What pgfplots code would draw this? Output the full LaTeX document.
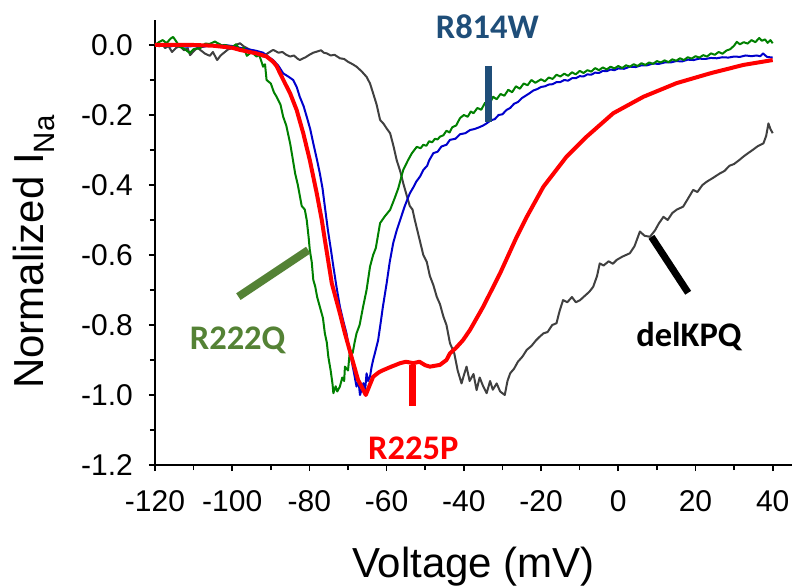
\documentclass[border=0pt]{standalone}
\usepackage{fontspec}
\setmainfont{Liberation Sans}
\newfontfamily\labfont{Carlito}
\usepackage{pgfplots}
\pgfplotsset{compat=1.18}
\definecolor{cgreen}{RGB}{0,128,0}
\definecolor{cblue}{RGB}{0,0,204}
\definecolor{cred}{RGB}{255,0,0}
\definecolor{cgray}{RGB}{64,64,64}
\definecolor{mblue}{RGB}{31,78,121}
\definecolor{mgreen}{RGB}{84,130,53}
\begin{document}
\begin{tikzpicture}
\begin{axis}[
  name=ax, scale only axis, width=637pt, height=445pt,
  xmin=-120, xmax=45, ymin=-1.2, ymax=0.0714,
  axis x line=bottom, axis y line=left,
  axis line style={-, line width=2pt},
  tick align=outside, major tick length=6pt, minor tick length=5pt,
  tick style={black, line width=1.6pt},
  xtick={-120,-100,-80,-60,-40,-20,0,20,40},
  ytick={-1.2,-1.0,-0.8,-0.6,-0.4,-0.2,0},
  minor x tick num=1, minor y tick num=1,
  /pgf/number format/assume math mode=true,
  tick label style={font=\fontsize{30}{36}\selectfont},
  xticklabel style={anchor=base, inner sep=0pt, yshift=-40pt},
  yticklabel style={anchor=east, inner sep=0pt, xshift=-16pt,
    /pgf/number format/fixed, /pgf/number format/fixed zerofill, /pgf/number format/precision=1},
  xlabel={Voltage (mV)},
  ylabel={Normalized I\textsubscript{Na}},
  label style={font=\fontsize{42}{50}\selectfont},
  xlabel style={at={(axis description cs:0.5,-0.2517)}, anchor=base},
  ylabel style={at={(axis description cs:-0.1758,0.4787)}, anchor=base},
  clip=false,
]
% delKPQ (gray)
\addplot[cgray, line width=2pt, line join=round] coordinates {
(-120,0.005) (-119,-0.004) (-118,0.002) (-117.4,-0.009) (-116.5,-0.003) (-115.6,-0.02) (-114.5,-0.008) (-113.5,-0.003) (-112.5,-0.015) (-111.5,-0.01) (-110.9,-0.029) (-110,-0.018) (-109,-0.008) (-108.3,-0.014) (-107,-0.025) (-105.8,-0.031) (-105,-0.02) (-103.9,-0.043) (-103,-0.03) (-101.9,-0.02) (-101,-0.012) (-99.8,-0.009) (-99,0.0) (-98,0.005) (-97,-0.004) (-96,-0.01) (-95.4,-0.014) (-94,-0.02) (-93,-0.025) (-92,-0.033) (-91,-0.025) (-90,-0.018) (-89.4,-0.014) (-88,-0.022) (-87,-0.02) (-86,-0.028) (-85,-0.033) (-84,-0.03) (-83.2,-0.038) (-82.5,-0.043) (-81,-0.035) (-80,-0.028) (-79,-0.022) (-78.1,-0.019) (-77,-0.015) (-76.3,-0.022) (-75.5,-0.024) (-74.5,-0.03) (-73.5,-0.028) (-72.1,-0.038) (-71,-0.04) (-70,-0.048) (-68.8,-0.055) (-67.8,-0.062) (-66.5,-0.075) (-65.2,-0.091) (-64.3,-0.11) (-63.5,-0.138) (-62.6,-0.17) (-61.7,-0.214) (-60.8,-0.225) (-59.9,-0.24) (-59.1,-0.252) (-58.2,-0.29) (-57.4,-0.329) (-56.5,-0.36) (-55.7,-0.395) (-54.8,-0.43) (-54,-0.46) (-53.3,-0.47) (-52.7,-0.5) (-51.6,-0.55) (-50.5,-0.6) (-49.6,-0.62) (-48.8,-0.66) (-47.9,-0.686) (-47,-0.72) (-46.2,-0.74) (-45.3,-0.776) (-44.5,-0.8) (-43.6,-0.852) (-42.5,-0.88) (-41.6,-0.93) (-40.6,-0.967) (-39.9,-0.94) (-39.3,-0.919) (-38.5,-0.96) (-37.5,-0.94) (-36.7,-0.986) (-35.9,-0.95) (-35,-0.975) (-34.1,-0.995) (-33.2,-0.96) (-32.5,-0.985) (-31.5,-0.967) (-30.6,-0.99) (-29.4,-1.0) (-28.7,-0.96) (-28,-0.938) (-27,-0.925) (-26,-0.905) (-24.8,-0.89) (-23.7,-0.871) (-22.5,-0.86) (-21.4,-0.845) (-20.5,-0.835) (-19.4,-0.824) (-18.3,-0.82) (-17.1,-0.8) (-16,-0.795) (-15.2,-0.76) (-14.3,-0.729) (-13.2,-0.735) (-12,-0.72) (-11,-0.735) (-9.9,-0.729) (-8.5,-0.715) (-7.5,-0.705) (-6.5,-0.691) (-5.5,-0.66) (-4.8,-0.624) (-3.8,-0.63) (-2.5,-0.618) (-1.4,-0.625) (-0.4,-0.614) (1,-0.605) (2,-0.6) (3,-0.595) (4.2,-0.575) (5.6,-0.533) (6.8,-0.545) (8.2,-0.548) (9.5,-0.53) (10.5,-0.51) (11.7,-0.491) (12.8,-0.5) (14,-0.48) (15.2,-0.47) (16.8,-0.462) (18,-0.44) (19.4,-0.414) (20.5,-0.42) (21.8,-0.4) (23,-0.39) (24.5,-0.38) (26.3,-0.367) (27.5,-0.36) (28.8,-0.345) (30,-0.34) (31.2,-0.33) (32.4,-0.319) (33.5,-0.31) (34.8,-0.3) (36,-0.29) (37.6,-0.281) (38.3,-0.26) (38.9,-0.224) (39.4,-0.24) (40,-0.252)
};
% blue
\addplot[cblue, line width=2pt, line join=round] coordinates {
(-120,0.0) (-118,0.002) (-116,-0.004) (-114,0.0) (-112,-0.005) (-110,-0.003) (-108,-0.006) (-106,-0.002) (-104,-0.004) (-102,0.0) (-100,-0.003) (-98,-0.008) (-96,-0.012) (-94,-0.016) (-92,-0.022) (-90.5,-0.035) (-89.4,-0.043) (-88,-0.06) (-86.8,-0.081) (-85.5,-0.09) (-84.2,-0.1) (-83.3,-0.12) (-82.5,-0.148) (-81.5,-0.175) (-80.7,-0.205) (-79.8,-0.24) (-79,-0.281) (-78,-0.33) (-77.3,-0.367) (-76.6,-0.41) (-76,-0.462) (-75.2,-0.53) (-74.5,-0.58) (-73.8,-0.633) (-73,-0.69) (-72.1,-0.748) (-71.2,-0.79) (-70.4,-0.824) (-69.7,-0.87) (-69.1,-0.9) (-68.4,-0.94) (-67.8,-0.976) (-67.3,-0.96) (-66.9,-1.0) (-66.5,-0.985) (-66,-0.966) (-65.6,-0.99) (-65.2,-0.938) (-64.8,-0.96) (-64.3,-0.947) (-63.9,-0.92) (-63.5,-0.9) (-62.8,-0.87) (-62.2,-0.843) (-61.5,-0.79) (-61,-0.75) (-60,-0.681) (-59.2,-0.62) (-58.3,-0.566) (-57.4,-0.53) (-56.5,-0.5) (-55.3,-0.46) (-54,-0.424) (-53,-0.405) (-52.3,-0.39) (-51.3,-0.375) (-50.5,-0.357) (-49.5,-0.345) (-49,-0.33) (-47.9,-0.309) (-46.8,-0.305) (-45.8,-0.29) (-44.5,-0.285) (-43.6,-0.271) (-42.2,-0.268) (-41,-0.255) (-39.6,-0.252) (-38.4,-0.243) (-37.2,-0.24) (-36,-0.235) (-35,-0.23) (-34.1,-0.224) (-33,-0.215) (-32,-0.212) (-31,-0.2) (-30,-0.198) (-29,-0.186) (-28,-0.18) (-27,-0.168) (-26,-0.163) (-25,-0.152) (-24,-0.145) (-23,-0.138) (-22,-0.13) (-21,-0.126) (-20,-0.12) (-19,-0.118) (-18,-0.113) (-17,-0.112) (-16,-0.106) (-15,-0.106) (-14,-0.1) (-13,-0.102) (-12,-0.095) (-11,-0.095) (-10,-0.089) (-9,-0.09) (-8,-0.084) (-7,-0.085) (-6,-0.079) (-5,-0.08) (-4,-0.074) (-3,-0.075) (-2,-0.07) (-1,-0.072) (0,-0.067) (1.5,-0.068) (3,-0.062) (4.5,-0.063) (6,-0.058) (7.5,-0.058) (9,-0.053) (10.5,-0.054) (12,-0.05) (13.5,-0.05) (15,-0.046) (16.5,-0.047) (18,-0.042) (19.5,-0.043) (21,-0.039) (22.5,-0.04) (24,-0.037) (25.5,-0.038) (27,-0.035) (28.5,-0.036) (30,-0.033) (31.5,-0.034) (33,-0.03) (34.5,-0.032) (35.8,-0.03) (36.8,-0.032) (37.5,-0.024) (38.5,-0.034) (40,-0.036)
};
% green
\addplot[cgreen, line width=2pt, line join=round] coordinates {
(-120,0.0) (-119,0.008) (-118,0.014) (-117,0.005) (-116,0.018) (-115.3,0.023) (-114.5,0.01) (-113.5,-0.006) (-112.5,-0.01) (-111,-0.023) (-110,-0.012) (-108.3,-0.009) (-107,0.004) (-105.8,0.003) (-104.5,0.01) (-103.9,0.006) (-102.5,-0.002) (-101.9,0.0) (-100,-0.006) (-99,0.002) (-98,-0.014) (-97,-0.008) (-96.2,-0.031) (-95,-0.02) (-93.7,-0.033) (-93,-0.028) (-92,-0.062) (-91.5,-0.055) (-91.1,-0.1) (-90,-0.11) (-89.2,-0.135) (-88.5,-0.148) (-87.5,-0.17) (-86.8,-0.205) (-86,-0.23) (-85,-0.281) (-84.4,-0.32) (-83.7,-0.367) (-83,-0.40) (-82,-0.46) (-81.2,-0.47) (-80.7,-0.5) (-80.2,-0.55) (-79.9,-0.586) (-79.4,-0.62) (-79,-0.671) (-78.5,-0.69) (-78,-0.72) (-77.3,-0.748) (-76.5,-0.78) (-76,-0.824) (-75.5,-0.85) (-75.1,-0.891) (-74.5,-0.93) (-74,-0.97) (-73.8,-0.995) (-73.2,-0.975) (-72.8,-0.99) (-72.1,-0.976) (-71.5,-0.95) (-71,-0.96) (-70.8,-0.919) (-70,-0.93) (-69.5,-0.871) (-68.8,-0.88) (-68.3,-0.85) (-67.8,-0.824) (-67,-0.8) (-66.1,-0.748) (-65.2,-0.7) (-64.3,-0.633) (-63.5,-0.6) (-62.8,-0.58) (-61.7,-0.509) (-60.5,-0.49) (-59.1,-0.471) (-58,-0.44) (-57,-0.41) (-55.7,-0.357) (-54.5,-0.33) (-53.5,-0.31) (-52.2,-0.291) (-51.2,-0.295) (-50.5,-0.285) (-49.7,-0.288) (-49,-0.275) (-48.2,-0.278) (-47.5,-0.268) (-46.8,-0.27) (-46.2,-0.262) (-45.3,-0.258) (-44.5,-0.245) (-43.7,-0.25) (-43,-0.235) (-42,-0.23) (-41,-0.209) (-40,-0.2) (-39,-0.205) (-38.2,-0.19) (-37.5,-0.195) (-36.5,-0.18) (-35.5,-0.185) (-34.5,-0.165) (-33.5,-0.17) (-32.4,-0.148) (-31.5,-0.155) (-30.5,-0.14) (-29.5,-0.145) (-28.5,-0.128) (-27.5,-0.135) (-26.5,-0.118) (-25.5,-0.125) (-24.5,-0.11) (-23.5,-0.115) (-22.5,-0.1) (-21.5,-0.108) (-20,-0.098) (-19,-0.104) (-18,-0.093) (-17,-0.097) (-16,-0.085) (-15,-0.09) (-14,-0.082) (-13,-0.088) (-12,-0.078) (-11,-0.084) (-10,-0.074) (-9,-0.08) (-8,-0.072) (-7,-0.076) (-6,-0.066) (-5,-0.072) (-4,-0.064) (-3,-0.07) (-2,-0.062) (-1,-0.067) (0,-0.06) (1,-0.066) (2,-0.058) (3,-0.062) (4,-0.055) (5,-0.06) (6,-0.052) (7,-0.057) (8,-0.05) (9,-0.054) (10,-0.046) (11,-0.05) (12,-0.044) (13,-0.049) (14,-0.041) (15,-0.045) (16,-0.038) (17,-0.043) (18,-0.035) (19,-0.039) (20,-0.032) (21,-0.036) (22,-0.029) (23,-0.033) (24,-0.024) (25,-0.028) (26,-0.02) (27,-0.025) (28,-0.016) (29,-0.012) (30,-0.002) (30.7,0.009) (31.5,0.002) (32.5,0.008) (33.5,0.004) (34.5,0.014) (35.5,0.008) (36.5,0.02) (37.2,0.012) (38,0.016) (38.7,0.006) (39.4,0.014) (40,0.005)
};
% red R225P
\addplot[cred, line width=4pt, line join=round] coordinates {
(-120,0) (-115,0) (-110,0.0) (-105,-0.002) (-100,-0.008) (-98,-0.014) (-95.5,-0.02) (-93.7,-0.024) (-91.1,-0.033) (-89.4,-0.048) (-88.5,-0.06) (-87.6,-0.081) (-86.3,-0.11) (-85,-0.138) (-83.3,-0.186) (-81.6,-0.252) (-79.9,-0.329) (-78.1,-0.424) (-76.8,-0.5) (-76,-0.557) (-74.2,-0.681) (-72.1,-0.767) (-70.8,-0.824) (-69.1,-0.891) (-67.4,-0.957) (-66.3,-0.98) (-65.4,-1.0) (-64.5,-0.975) (-63.5,-0.948) (-62,-0.935) (-60.9,-0.929) (-59,-0.92) (-56.5,-0.909) (-55,-0.905) (-53.1,-0.909) (-51.5,-0.905) (-50,-0.915) (-48.8,-0.919) (-46.2,-0.914) (-44.5,-0.9) (-43.6,-0.881) (-42,-0.865) (-40.2,-0.843) (-38.4,-0.814) (-35,-0.748) (-30.6,-0.652) (-26.3,-0.548) (-23.7,-0.491) (-19.4,-0.405) (-13.4,-0.319) (-8.2,-0.262) (-1.3,-0.195) (6.5,-0.148) (15.1,-0.109) (23.8,-0.081) (32.4,-0.057) (40,-0.043)
};
% annotation markers
\addplot[mblue, line width=7pt, forget plot] coordinates {(-33.6,-0.06) (-33.6,-0.219)};
\addplot[mgreen, line width=8pt, forget plot] coordinates {(-98.4,-0.719) (-80.3,-0.586)};
\addplot[cred, line width=7pt, forget plot] coordinates {(-53.4,-0.914) (-53.4,-1.031)};
\addplot[black, line width=7pt, forget plot] coordinates {(8.6,-0.548) (18.1,-0.708)};
\node[font=\labfont\bfseries\fontsize{34.5}{40}\selectfont, text=mblue] at (axis cs:-33.9,0.051) {R814W};
\node[font=\labfont\bfseries\fontsize{34.5}{40}\selectfont, text=mgreen] at (axis cs:-98.6,-0.844) {R222Q};
\node[font=\labfont\bfseries\fontsize{34.5}{40}\selectfont, text=cred] at (axis cs:-53.1,-1.151) {R225P};
\node[font=\labfont\bfseries\fontsize{34.5}{40}\selectfont, text=black] at (axis cs:18.3,-0.833) {delKPQ};
\end{axis}
\pgfresetboundingbox
\path[use as bounding box] ([xshift=-155pt,yshift=-121pt]ax.south west) rectangle ([xshift=2pt,yshift=20pt]ax.north east);
\end{tikzpicture}
\end{document}
